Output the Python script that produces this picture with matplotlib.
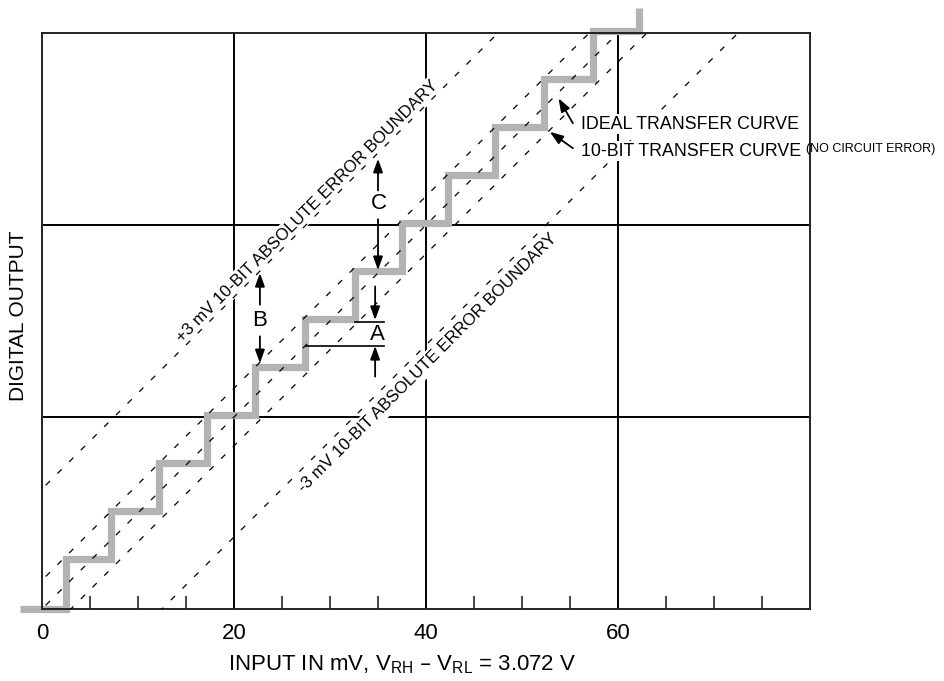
import matplotlib
matplotlib.use("Agg")
import matplotlib.pyplot as plt

plt.rcParams['font.family'] = ['Liberation Sans', 'DejaVu Sans']
plt.rcParams['lines.scale_dashes'] = False

# x positions (mV) where the 10-bit staircase rises, and the code levels it steps between
step_x = [2.5, 7.2, 12.2, 17.2, 22.2, 27.4, 32.6, 37.5, 42.3, 47.2, 52.3, 57.4, 62.2]
step_levels = [0, 5.2, 10.2, 15.2, 20.2, 25.2, 30.2, 35.2, 40.2, 45.2, 50.2, 55.2, 60.2, 62.6]
stair_start = -2.3

# dashed 45-degree lines: offset of each line above the ideal y = x line
line_offsets = [12.5, 3.0, 0.0, -3.0, -12.5]

major_ticks = [0, 20, 40, 60]
major_labels = ["0", "20", "40", "60"]
minor_ticks = [5, 10, 15, 25, 30, 35, 45, 50, 55, 65, 70, 75]

fig = plt.figure(figsize=(9.45, 6.81), dpi=100)
ax = fig.add_axes([42 / 945, 72 / 681, 768 / 945, 576 / 681])
ax.set_xlim(0, 80)
ax.set_ylim(0, 60)

# grid and frame
for v in [20, 40, 60]:
    ax.axvline(v, color='black', lw=1.4, zorder=1)
for v in [20, 40]:
    ax.axhline(v, color='black', lw=1.4, zorder=1)
for s in ax.spines.values():
    s.set_linewidth(1.4)
    s.set_color('#222222')

ax.set_xticks(major_ticks)
ax.set_xticklabels(major_labels, fontsize=16)
ax.set_xticks(minor_ticks, minor=True)
ax.tick_params(axis='x', which='major', length=0, pad=10)
ax.tick_params(axis='x', which='minor', direction='in', length=9.5, width=1.4, color='#444444')
ax.set_yticks([])

# staircase
xs = [stair_start]
ys = [step_levels[0]]
for i, rx in enumerate(step_x):
    xs += [rx, rx]
    ys += [step_levels[i], step_levels[i + 1]]
ax.plot(xs, ys, color='#b3b3b3', lw=5.2, solid_joinstyle='miter',
        solid_capstyle='butt', clip_on=False, zorder=2)

# dashed lines
for off in line_offsets:
    ax.plot([-20, 100], [-20 + off, 100 + off], color='black', lw=0.9,
            linestyle=(0, (4.3, 7.6)), zorder=4)

# boundary labels
box = dict(facecolor='white', edgecolor='none', pad=2)
ax.text(28.0, 41.1, "+3 mV 10-BIT ABSOLUTE ERROR BOUNDARY", rotation=45,
        rotation_mode='anchor', ha='center', va='baseline', fontsize=12.2,
        bbox=box, zorder=3)
ax.text(40.5, 25.25, "-3 mV 10-BIT ABSOLUTE ERROR BOUNDARY", rotation=45,
        rotation_mode='anchor', ha='center', va='baseline', fontsize=12.2,
        bbox=box, zorder=3)

# dimension arrows A, B, C
arr = dict(arrowstyle='-|>,head_length=0.5,head_width=0.18', color='black',
           lw=1.3, mutation_scale=16, shrinkA=0, shrinkB=0)


def dim_arrow(x, y_from, y_to):
    ax.annotate("", xy=(x, y_to), xytext=(x, y_from), arrowprops=arr, zorder=5)


dim_arrow(35.0, 43.6, 46.9)
dim_arrow(35.0, 40.6, 35.3)
ax.text(35.1, 42.2, "C", fontsize=16, ha='center', va='center', zorder=5)

dim_arrow(34.7, 33.6, 30.1)
dim_arrow(34.7, 24.2, 27.4)
ax.plot([32.6, 35.6], [29.9, 29.9], color='black', lw=1.2, zorder=5)
ax.plot([27.5, 35.6], [27.4, 27.4], color='black', lw=1.2, zorder=5)
ax.text(34.9, 28.6, "A", fontsize=16, ha='center', va='center', zorder=5)

dim_arrow(22.7, 31.7, 35.0)
dim_arrow(22.7, 28.4, 25.6)
ax.text(22.7, 30.1, "B", fontsize=16, ha='center', va='center', zorder=5)

# curve callouts
ax.annotate("", xy=(53.8, 53.2), xytext=(55.3, 50.6), arrowprops=arr, zorder=5)
ax.annotate("", xy=(52.9, 49.7), xytext=(55.3, 48.0), arrowprops=arr, zorder=5)
lbox = dict(facecolor='white', edgecolor='none', pad=1)
ax.text(56.1, 50.5, "IDEAL TRANSFER CURVE", fontsize=12.8, ha='left', va='center',
        bbox=lbox, zorder=5)
ax.text(56.1, 47.7, "10-BIT TRANSFER CURVE", fontsize=12.8, ha='left', va='center',
        bbox=lbox, zorder=5)
ax.text(79.6, 47.9, "(NO CIRCUIT ERROR)", fontsize=9.0, ha='left', va='center',
        clip_on=False, zorder=5)

# axis labels
ax.set_xlabel(r"INPUT IN mV, V$_\mathregular{RH}$ – V$_\mathregular{RL}$ = 3.072 V", fontsize=16)
ax.xaxis.label.set_va('center')
ax.xaxis.set_label_coords(0.469, -0.097)
ax.set_ylabel("DIGITAL OUTPUT", fontsize=15)
ax.yaxis.label.set_va('center')
ax.yaxis.set_label_coords(-0.03, 0.509)

fig.savefig("out.png", dpi=100)
